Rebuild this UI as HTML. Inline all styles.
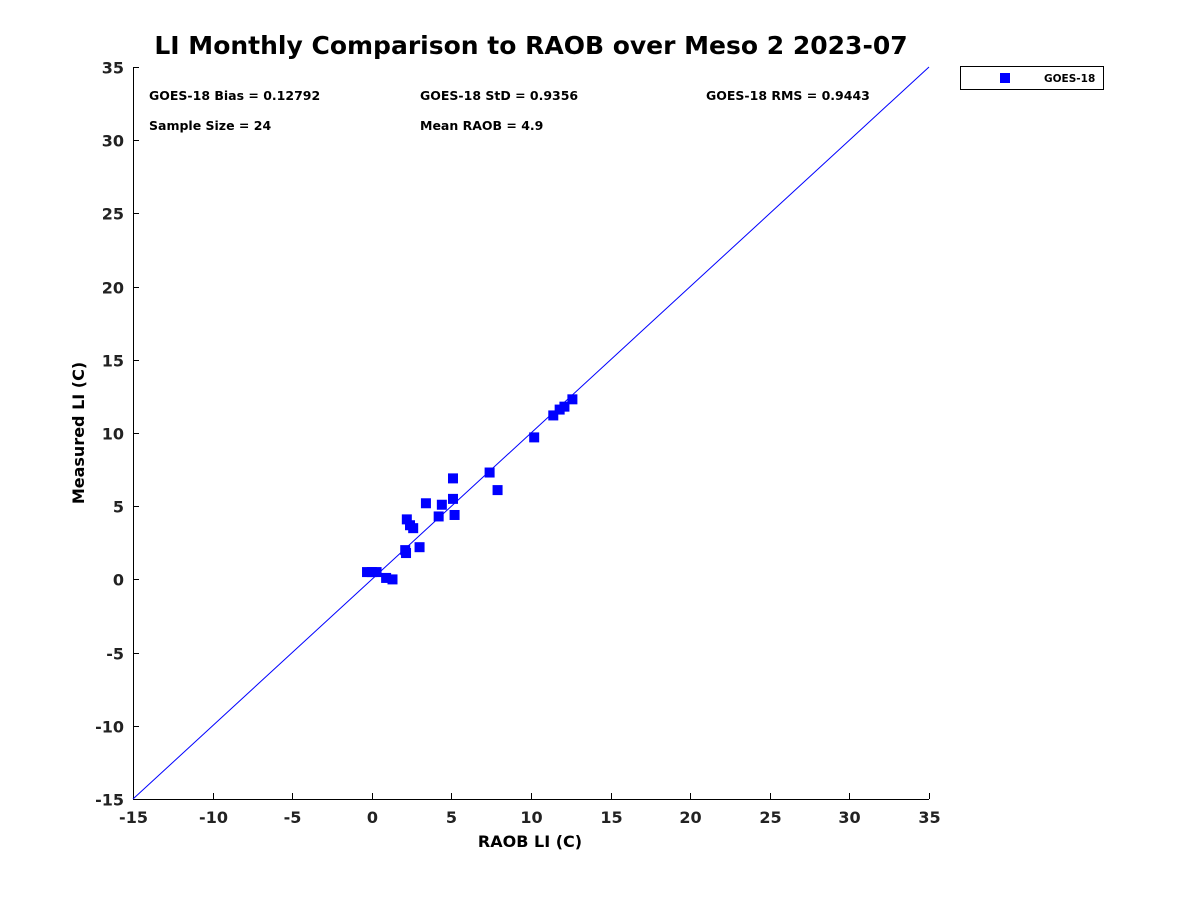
<!DOCTYPE html>
<html><head><meta charset="utf-8"><style>
body{margin:0;background:#fff;}
svg text{font-family:"DejaVu Sans","Liberation Sans",sans-serif;font-weight:bold;}
</style></head><body>
<svg id="chart" width="1200" height="900">
<text x="531" y="54" text-anchor="middle" font-size="25" fill="#000">LI Monthly Comparison to RAOB over Meso 2 2023-07</text>
<g id="axes"></g>
<g id="marks"></g>
<g font-size="12.5" fill="#000">
<text x="149" y="100">GOES-18 Bias = 0.12792</text>
<text x="420" y="100">GOES-18 StD = 0.9356</text>
<text x="706" y="100">GOES-18 RMS = 0.9443</text>
<text x="149" y="130">Sample Size = 24</text>
<text x="420" y="130">Mean RAOB = 4.9</text>
</g>
<g>
<rect x="960.5" y="66.5" width="143" height="23" fill="#fff" stroke="#000"/>
<rect x="1000" y="73" width="10" height="10" fill="#0000ff"/>
<text x="1044" y="82" font-size="10.5">GOES-18</text>
</g>
<text x="530" y="847" text-anchor="middle" font-size="16">RAOB LI (C)</text>
<text transform="translate(84,433) rotate(-90)" text-anchor="middle" font-size="16">Measured LI (C)</text>
</svg>
<script>
const raobX=[-0.3,0,0.3,0.9,1.3,2.1,2.15,3.0,2.2,2.4,2.6,3.4,4.2,4.4,5.1,5.1,5.2,7.4,7.9,10.2,11.4,11.8,12.1,12.6];
const measuredY=[0.5,0.5,0.5,0.1,0.0,2.0,1.8,2.2,4.1,3.7,3.5,5.2,4.3,5.1,6.9,5.5,4.4,7.3,6.1,9.7,11.2,11.6,11.8,12.3];
const xTicks=[-15,-10,-5,0,5,10,15,20,25,30,35];
const yTicks=[-15,-10,-5,0,5,10,15,20,25,30,35];
const X0=133,X1=929,Y0=799,Y1=67,MIN=-15,MAX=35;
const sx=v=>X0+(v-MIN)/(MAX-MIN)*(X1-X0);
const sy=v=>Y0-(v-MIN)/(MAX-MIN)*(Y0-Y1);
const NS="http://www.w3.org/2000/svg";
const axes=document.getElementById('axes'),marks=document.getElementById('marks');
function mk(tag,at,parent){const e=document.createElementNS(NS,tag);for(const k in at)e.setAttribute(k,at[k]);parent.appendChild(e);return e;}
const xa=mk('line',{x1:X0,y1:Y0+0.5,x2:X1,y2:Y0+0.5,stroke:'#000'},axes);


const ya=mk('line',{x1:X0+0.5,y1:Y0,x2:X0+0.5,y2:Y1,stroke:'#000'},axes);


xTicks.forEach(t=>{const x=Math.round(sx(t))+0.5;
 const l=mk('line',{x1:x,y1:Y0,x2:x,y2:Y0-6,stroke:'#000'},axes);
 
 
 const tx=mk('text',{x:x,y:Y0+24,'text-anchor':'middle','font-size':'16',fill:'#222'},axes);tx.textContent=t;
 
 });
yTicks.forEach(t=>{const y=Math.round(sy(t))+0.5;
 const l=mk('line',{x1:X0,y1:y,x2:X0+6,y2:y,stroke:'#000'},axes);
 
 
 const tx=mk('text',{x:X0-9,y:y+6,'text-anchor':'end','font-size':'16',fill:'#222'},axes);tx.textContent=t;
 
 });
const ref=mk('line',{x1:sx(MIN),y1:sy(MIN),x2:sx(MAX),y2:sy(MAX),stroke:'#0000ff','stroke-width':1},marks);


raobX.forEach((v,i)=>{const r=mk('rect',{x:sx(v)-5,y:sy(measuredY[i])-5,width:10,height:10,fill:'#0000ff'},marks);
 
 });
</script>
</body></html>
